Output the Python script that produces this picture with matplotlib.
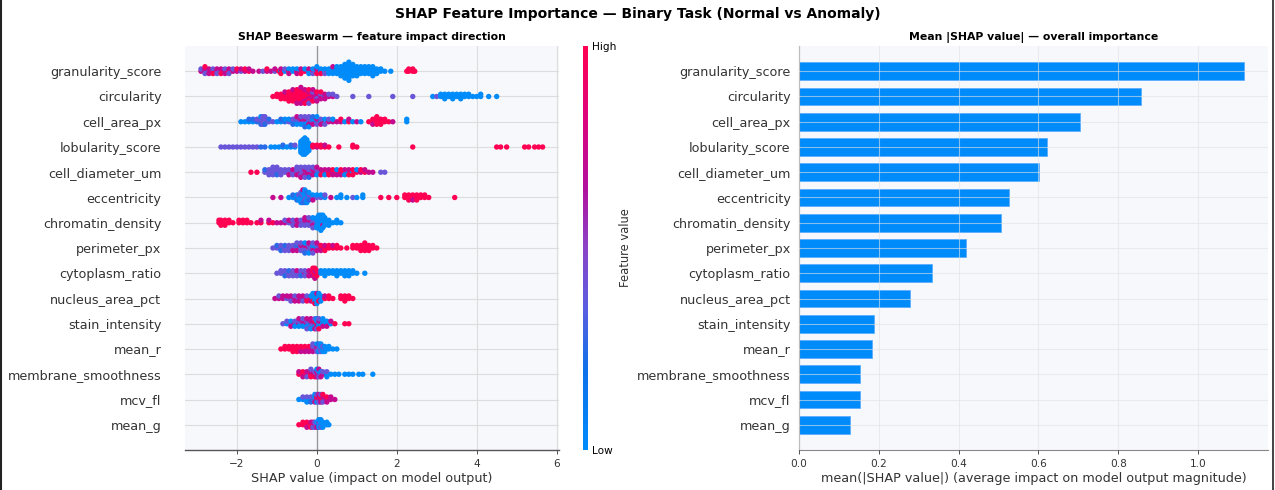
import numpy as np
import matplotlib
matplotlib.use("Agg")
import matplotlib.pyplot as plt
from matplotlib.colors import LinearSegmentedColormap, Normalize
from matplotlib.cm import ScalarMappable
from matplotlib.lines import Line2D

# feature order, most important first
features = ["granularity_score", "circularity", "cell_area_px", "lobularity_score",
            "cell_diameter_um", "eccentricity", "chromatin_density", "perimeter_px",
            "cytoplasm_ratio", "nucleus_area_pct", "stain_intensity", "mean_r",
            "membrane_smoothness", "mcv_fl", "mean_g"]

# mean |SHAP| per feature
mean_abs_shap = [1.116, 0.857, 0.705, 0.622, 0.602, 0.526, 0.506, 0.419,
                 0.333, 0.278, 0.188, 0.183, 0.153, 0.153, 0.128]

# beeswarm points: (shap value, colour codes of points at that value)
# b = low feature value, i, p, m, r = high feature value
granularity_pts = [(-2.9, "mp"), (-2.8, "mmpr"), (-2.7, "pmm"), (-2.6, "mpr"), (-2.5, "mmp"),
                   (-2.4, "pmr"), (-2.3, "mpm"), (-2.2, "rmp"), (-2.1, "mp"), (-2.0, "mr"),
                   (-1.9, "pm"), (-1.8, "mr"), (-1.7, "rm"), (-1.6, "m"), (-1.45, "m"),
                   (-1.35, "p"), (-1.25, "mr"), (-1.15, "m"), (-1.05, "pm"), (-0.95, "r"),
                   (-0.9, "bmr"), (-0.8, "bp"), (-0.7, "rbm"), (-0.6, "bb"), (-0.5, "rbm"),
                   (-0.4, "bmr"), (-0.3, "rb"), (-0.2, "bmb"), (-0.1, "rbp"), (0.0, "bmrb"),
                   (0.1, "bbr"), (0.2, "bbp"), (0.3, "bbb"), (0.4, "bbbm"), (0.5, "bbbb"),
                   (0.6, "bbbbb"), (0.7, "bbbbbbb"), (0.8, "bbbbbbbbb"), (0.9, "bbbbbb"),
                   (1.0, "bbbbb"), (1.1, "bbbb"), (1.2, "bbbb"), (1.3, "bbbb"), (1.4, "bbbbb"),
                   (1.5, "bbb"), (1.6, "bb"), (1.7, "b"), (1.85, "b"), (2.25, "r"),
                   (2.3, "rr"), (2.4, "rr"), (2.45, "r")]
circularity_pts = [(-1.1, "r"), (-1.0, "rr"), (-0.9, "rrr"), (-0.8, "rrrm"), (-0.7, "rrrrr"),
                   (-0.6, "rrrrrm"), (-0.5, "rrrrrrm"), (-0.4, "rrrrrrmm"), (-0.3, "rrrrmmr"),
                   (-0.2, "rrmmrrp"), (-0.1, "rmmprm"), (0.0, "mmprm"), (0.1, "mpmr"),
                   (0.2, "pmm"), (0.3, "mp"), (0.4, "mp"), (0.5, "p"), (0.9, "p"), (1.3, "p"),
                   (1.9, "p"), (2.4, "p"), (2.9, "b"), (3.0, "p"), (3.1, "bb"), (3.2, "bbb"),
                   (3.3, "bb"), (3.4, "bbb"), (3.5, "bb"), (3.6, "bbb"), (3.7, "bb"),
                   (3.8, "bb"), (3.9, "b"), (4.0, "b"), (4.1, "bb"), (4.3, "b"), (4.5, "b")]
cell_area_pts = [(-1.9, "b"), (-1.8, "b"), (-1.7, "bi"), (-1.6, "bi"), (-1.5, "ip"),
                 (-1.4, "ppib"), (-1.35, "pppp"), (-1.3, "ppip"), (-1.2, "pi"), (-1.1, "p"),
                 (-1.0, "b"), (-0.9, "bi"), (-0.8, "ib"), (-0.7, "pb"), (-0.6, "bpi"),
                 (-0.5, "ipbm"), (-0.4, "pmbp"), (-0.3, "pmbpi"), (-0.2, "bpmpb"),
                 (-0.1, "pbmi"), (0.0, "bmpb"), (0.1, "bpm"), (0.2, "mbp"), (0.3, "mp"),
                 (0.4, "mb"), (0.5, "m"), (0.6, "mr"), (0.7, "b"), (0.8, "rm"), (0.9, "b"),
                 (1.0, "m"), (1.1, "b"), (1.3, "r"), (1.4, "rrm"), (1.5, "rrrr"), (1.6, "rrr"),
                 (1.7, "rr"), (1.8, "r"), (1.9, "m"), (2.25, "bb")]
lobularity_pts = [(-2.4, "p"), (-2.3, "p"), (-2.2, "p"), (-2.1, "p"), (-2.0, "p"), (-1.9, "p"),
                  (-1.8, "p"), (-1.7, "p"), (-1.6, "p"), (-1.5, "p"), (-1.4, "i"), (-1.3, "i"),
                  (-1.15, "b"), (-1.05, "b"), (-0.95, "b"), (-0.85, "bi"), (-0.75, "b"),
                  (-0.65, "bi"), (-0.55, "bp"), (-0.4, "bbbbbbb"), (-0.35, "bbbbbbbbb"),
                  (-0.3, "bbbbbbbbbb"), (-0.25, "bbbbbbbb"), (-0.2, "bbbbb"), (-0.1, "rr"),
                  (0.0, "mr"), (0.1, "rr"), (0.2, "rm"), (0.3, "r"), (0.55, "r"), (0.9, "rr"),
                  (1.0, "r"), (2.4, "r"), (4.5, "r"), (4.6, "r"), (4.75, "r"), (5.2, "r"),
                  (5.3, "r"), (5.45, "r"), (5.55, "r"), (5.65, "r")]
cell_diameter_pts = [(-1.65, "r"), (-1.5, "r"), (-1.3, "pi"), (-1.2, "ppp"), (-1.1, "pppp"),
                     (-1.0, "ppip"), (-0.9, "ppp"), (-0.8, "pp"), (-0.7, "ppm"), (-0.6, "pmp"),
                     (-0.5, "ppmp"), (-0.4, "mpppm"), (-0.3, "pmmpp"), (-0.2, "mpmpi"),
                     (-0.1, "pmmp"), (0.0, "mpbm"), (0.1, "bmr"), (0.2, "rmb"), (0.3, "rmr"),
                     (0.4, "mrm"), (0.5, "rbm"), (0.6, "rrm"), (0.7, "rmb"), (0.8, "bmr"),
                     (0.9, "brr"), (1.0, "rb"), (1.1, "mr"), (1.2, "rm"), (1.3, "m"),
                     (1.4, "m"), (1.6, "p"), (1.7, "p")]
eccentricity_pts = [(-1.1, "m"), (-0.9, "m"), (-0.7, "b"), (-0.6, "bi"), (-0.5, "bbi"),
                    (-0.45, "bpb"), (-0.4, "bibpb"), (-0.35, "bpbbim"), (-0.3, "bbpbib"),
                    (-0.25, "pbbib"), (-0.2, "bpib"), (-0.1, "pbm"), (0.0, "pb"), (0.1, "pb"),
                    (0.2, "bp"), (0.35, "m"), (0.5, "b"), (0.6, "bb"), (0.75, "b"), (0.9, "p"),
                    (1.0, "b"), (1.15, "bb"), (1.6, "r"), (1.8, "r"), (2.0, "r"), (2.2, "rr"),
                    (2.3, "rrr"), (2.4, "rrm"), (2.5, "rrr"), (2.6, "rr"), (2.7, "rr"),
                    (2.8, "r"), (3.45, "r")]
chromatin_pts = [(-2.45, "rr"), (-2.4, "rrr"), (-2.3, "rrr"), (-2.2, "rr"), (-2.1, "r"),
                 (-1.95, "rr"), (-1.85, "rr"), (-1.75, "rr"), (-1.65, "r"), (-1.5, "r"),
                 (-1.4, "rm"), (-1.2, "rm"), (-1.1, "r"), (-1.0, "m"), (-0.9, "m"),
                 (-0.8, "mp"), (-0.7, "pm"), (-0.6, "mpp"), (-0.5, "pmm"), (-0.4, "mpp"),
                 (-0.3, "pmpm"), (-0.2, "pmpp"), (-0.1, "ppmbp"), (0.0, "pbbbb"),
                 (0.05, "bbbbbb"), (0.1, "bbbbbbb"), (0.15, "bbmbbb"), (0.2, "bbbb"),
                 (0.3, "bbb"), (0.4, "b"), (0.5, "bb"), (0.6, "b")]
perimeter_pts = [(-1.1, "p"), (-1.0, "pi"), (-0.9, "ppi"), (-0.8, "pip"), (-0.7, "ppp"),
                 (-0.6, "ppm"), (-0.5, "pimp"), (-0.4, "pmpp"), (-0.3, "pmpbi"),
                 (-0.2, "mppmb"), (-0.1, "pbmpp"), (0.0, "bpmm"), (0.1, "mrm"), (0.2, "rmr"),
                 (0.3, "rr"), (0.4, "rm"), (0.5, "rr"), (0.6, "r"), (0.75, "r"), (0.9, "rr"),
                 (1.0, "rr"), (1.1, "rrr"), (1.2, "rrrr"), (1.3, "rrr"), (1.4, "rr"), (1.5, "r")]
cytoplasm_pts = [(-1.0, "p"), (-0.9, "pp"), (-0.8, "ppi"), (-0.7, "pip"), (-0.6, "ppp"),
                 (-0.5, "pmp"), (-0.4, "ppi"), (-0.3, "mpp"), (-0.2, "pmm"), (-0.1, "rrmr"),
                 (-0.05, "rmrrm"), (0.0, "mrr"), (0.1, "bb"), (0.2, "bbb"), (0.3, "bb"),
                 (0.4, "bb"), (0.5, "bbb"), (0.6, "bb"), (0.7, "bbb"), (0.8, "bbb"),
                 (0.9, "bb"), (1.0, "b"), (1.2, "b")]
nucleus_pts = [(-1.05, "m"), (-0.95, "mp"), (-0.85, "mm"), (-0.75, "pm"), (-0.65, "mmp"),
               (-0.55, "mpm"), (-0.45, "pmm"), (-0.35, "mmp"), (-0.25, "mpr"), (-0.15, "rbm"),
               (-0.1, "bbrb"), (-0.05, "bbbbr"), (0.0, "bbbmb"), (0.05, "bbrb"), (0.1, "mbb"),
               (0.2, "rm"), (0.3, "rr"), (0.4, "r"), (0.6, "rr"), (0.7, "rrr"), (0.8, "rr"),
               (0.9, "r")]
stain_pts = [(-0.85, "p"), (-0.75, "bp"), (-0.65, "pbm"), (-0.55, "mpb"), (-0.45, "mpbm"),
             (-0.35, "pmbp"), (-0.25, "mpbmp"), (-0.15, "bmpmb"), (-0.05, "mrbpm"),
             (0.0, "rbmbp"), (0.05, "bmbpr"), (0.15, "bbmb"), (0.25, "bbm"), (0.35, "bm"),
             (0.45, "r"), (0.7, "r"), (0.8, "r")]
mean_r_pts = [(-0.9, "r"), (-0.8, "rr"), (-0.7, "rr"), (-0.6, "rrr"), (-0.5, "rrr"),
              (-0.4, "rrm"), (-0.3, "rrm"), (-0.2, "mrm"), (-0.1, "mpmp"), (0.0, "pmpb"),
              (0.05, "ppbi"), (0.1, "pbpb"), (0.15, "bpb"), (0.2, "pbb"), (0.3, "bb"),
              (0.4, "b"), (0.5, "b")]
membrane_pts = [(-0.45, "rm"), (-0.35, "rrm"), (-0.25, "rmp"), (-0.15, "rmrp"), (-0.05, "mpr"),
                (0.0, "pmmb"), (0.05, "mbpm"), (0.1, "pbm"), (0.15, "mp"), (0.25, "bpb"),
                (0.35, "b"), (0.45, "b"), (0.55, "b"), (0.7, "b"), (0.8, "b"), (0.9, "b"),
                (1.05, "b"), (1.15, "b"), (1.4, "b")]
mcv_pts = [(-0.45, "b"), (-0.35, "bp"), (-0.25, "bpb"), (-0.15, "bpi"), (-0.05, "pbmb"),
           (0.0, "mrbp"), (0.05, "rmpm"), (0.1, "mrmp"), (0.15, "rmpr"), (0.25, "mrm"),
           (0.35, "mm"), (0.45, "m")]
mean_g_pts = [(-0.45, "r"), (-0.35, "rr"), (-0.25, "rrm"), (-0.15, "rmr"), (-0.1, "rmp"),
              (-0.05, "mpp"), (0.0, "pbm"), (0.05, "bpbb"), (0.1, "bbpb"), (0.15, "bbb"),
              (0.25, "bb"), (0.3, "b")]

swarm_data = [granularity_pts, circularity_pts, cell_area_pts, lobularity_pts,
              cell_diameter_pts, eccentricity_pts, chromatin_pts, perimeter_pts,
              cytoplasm_pts, nucleus_pts, stain_pts, mean_r_pts, membrane_pts,
              mcv_pts, mean_g_pts]

code_value = {"b": 0.0, "i": 0.25, "p": 0.4, "m": 0.72, "r": 1.0}

shap_cmap = LinearSegmentedColormap.from_list(
    "shap_red_blue",
    [(0.0, "#008bfb"), (0.2, "#1070ea"), (0.35, "#5a5ee0"), (0.5, "#8a44c8"),
     (0.65, "#b2109e"), (0.82, "#dc047c"), (1.0, "#ff0052")])

BLUE = "#008bfb"
BG = "#f7f8fc"
TXT = "#333333"


def swarm_offsets(xs, max_height=0.36, max_step=0.1):
    # stack points sharing a bin alternately up/down, like shap's beeswarm
    order = np.argsort(xs, kind="stable")
    ys = np.zeros(len(xs))
    layer = 0
    last = None
    for i in order:
        if xs[i] != last:
            layer = 0
        ys[i] = np.ceil(layer / 2) * ((layer % 2) * 2 - 1)
        layer += 1
        last = xs[i]
    step = min(max_height / np.max(np.abs(ys)), max_step)
    return ys * step


fig = plt.figure(figsize=(12.75, 4.9), dpi=100)
W, H = 1275, 490

def px_axes(left, top, right, bottom):
    return fig.add_axes([left / W, 1 - bottom / H, (right - left) / W, (bottom - top) / H])

n = len(features)
ypos = np.arange(n)[::-1]

# ---------------- beeswarm ----------------
ax1 = px_axes(185, 46, 559, 450)
ax1.set_facecolor(BG)
for y in ypos:
    ax1.axhline(y, color="#dddddd", lw=0.8, zorder=0)
for xt in [-2, 2, 4, 6]:
    ax1.axvline(xt, color="#dddddd", lw=0.8, zorder=0)
ax1.axvline(0, color="#999999", lw=1.0, zorder=1)

for y, pts in zip(ypos, swarm_data):
    xs = np.array([v for v, codes in pts for _ in codes])
    cs = np.array([code_value[c] for v, codes in pts for c in codes])
    offs = swarm_offsets(xs)
    ax1.scatter(xs, y + offs, c=cs, cmap=shap_cmap, vmin=0, vmax=1, s=15,
                linewidths=0, zorder=3)

ax1.set_xlim(-3.3, 6.06)
ax1.set_ylim(-1, n)
ax1.set_yticks(ypos)
ax1.set_yticklabels(features, fontsize=9.2, color=TXT)
ax1.tick_params(axis="y", length=0, pad=17)
ax1.set_xticks([-2, 0, 2, 4, 6])
ax1.set_xticklabels(["\u22122", "0", "2", "4", "6"])
ax1.tick_params(axis="x", labelsize=7.6, colors=TXT, length=3, width=0.6)
for s in ["top", "right", "left"]:
    ax1.spines[s].set_visible(False)
ax1.spines["bottom"].set_color("#555555")
ax1.spines["bottom"].set_linewidth(1.0)
ax1.set_xlabel("SHAP value (impact on model output)", fontsize=9.2, color=TXT, labelpad=2)
ax1.set_title("SHAP Beeswarm \u2014 feature impact direction", fontsize=7.8,
              fontweight="bold", pad=4)

# colour bar
cax = px_axes(583, 46, 588, 450)
cb = fig.colorbar(ScalarMappable(norm=Normalize(0, 1), cmap=shap_cmap), cax=cax, ticks=[0, 1])
cb.set_ticklabels(["Low", "High"])
cb.ax.tick_params(labelsize=7.6, length=0, pad=3)
cb.outline.set_visible(False)
cb.set_label("Feature value", fontsize=8.3, color=TXT, labelpad=2)

# ---------------- mean |SHAP| bars ----------------
ax2 = px_axes(799, 46, 1268, 450)
ax2.set_facecolor(BG)
ax2.barh(ypos, mean_abs_shap, height=0.7, color=BLUE, edgecolor="#55aaff",
         linewidth=0.5, zorder=2)
ax2.set_axisbelow(False)
ax2.grid(True, color="#e2e2e2", lw=0.8, alpha=0.6, zorder=3)
ax2.set_xlim(0, 1.175)
ax2.set_ylim(-1, n)
ax2.set_yticks(ypos)
ax2.set_yticklabels(features, fontsize=9.2, color=TXT)
ax2.tick_params(axis="y", length=0, pad=6)
ax2.set_xticks([0.0, 0.2, 0.4, 0.6, 0.8, 1.0])
ax2.tick_params(axis="x", labelsize=7.6, colors=TXT, length=3, width=0.6)
for s in ["top", "right"]:
    ax2.spines[s].set_visible(False)
for s in ["left", "bottom"]:
    ax2.spines[s].set_color("#888888")
    ax2.spines[s].set_linewidth(0.8)
ax2.set_xlabel("mean(|SHAP value|) (average impact on model output magnitude)",
               fontsize=9.2, color=TXT, labelpad=2)
ax2.set_title("Mean |SHAP value| \u2014 overall importance", fontsize=7.8,
              fontweight="bold", pad=4)

fig.suptitle("SHAP Feature Importance \u2014 Binary Task (Normal vs Anomaly)",
             fontsize=10, fontweight="bold", y=0.985)

# dark frame lines at the image sides
fig.add_artist(Line2D([0.8 / W, 0.8 / W], [0, 1], color="#222222", lw=1.5))
fig.add_artist(Line2D([1273 / W, 1273 / W], [0, 1], color="#222222", lw=1.2))

fig.savefig("out.png", dpi=100)
